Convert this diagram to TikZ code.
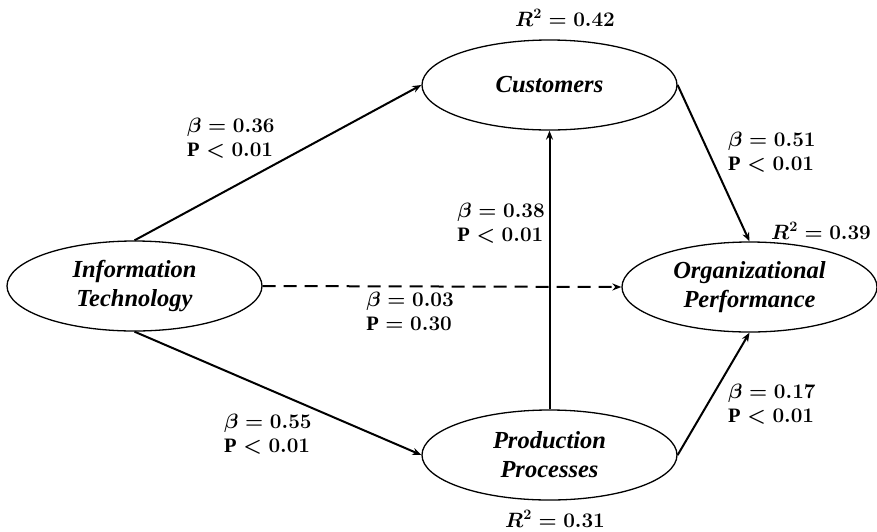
\documentclass[tikz,border=0pt]{standalone}
\usepackage{amsmath}
\usepackage{fontspec}
\setmainfont{Liberation Serif}
\usetikzlibrary{arrows.meta, shapes.geometric}

\begin{document}
\begin{tikzpicture}[x=1pt, y=-1pt]
\tikzstyle{every node}+=[inner sep=0pt]
\tikzstyle{construct}=[draw, ellipse, line width=1.3pt, minimum width=255pt, minimum height=90pt,
  align=center, font=\fontsize{24.5}{29}\selectfont\bfseries\itshape]
\tikzstyle{path}=[line width=2pt, -{Stealth[length=9pt, width=7pt]}]
\tikzstyle{coef}=[align=left, font=\fontsize{20.5}{24}\selectfont\boldmath]
\useasboundingbox (0,0) rectangle (877,531);
\node [construct] (it) at (134.5,286) {Information\\Technology};
\node [construct] (cust) at (549.5,85) {Customers};
\node [construct] (perf) at (749.5,287) {Organizational\\Performance};
\node [construct] (proc) at (549.5,455) {Production\\Processes};
\draw [path] (it.north) -- (cust.west);
\draw [path] (it.south) -- (proc.west);
\draw [path] (proc.north) -- (cust.south);
\draw [path] (cust.east) -- (perf.north);
\draw [path] (proc.east) -- (perf.south);
\draw [path, dash pattern=on 13pt off 8pt] (it.east) -- (perf.west);
\node [coef, anchor=west] (b1) at (187,138) {$\beta = 0.36$\\$\mathrm{P} < 0.01$};
\node [coef, anchor=west] (b2) at (224,434) {$\beta = 0.55$\\$\mathrm{P} < 0.01$};
\node [coef, anchor=east] (b3) at (545,223) {$\beta = 0.38$\\$\mathrm{P} < 0.01$};
\node [coef, anchor=center] (b4) at (410,311) {$\beta = 0.03$\\$\mathrm{P} = 0.30$};
\node [coef, anchor=west] (b5) at (728,152) {$\beta = 0.51$\\$\mathrm{P} < 0.01$};
\node [coef, anchor=west] (b6) at (728,404) {$\beta = 0.17$\\$\mathrm{P} < 0.01$};
\node [coef] (r1) at (565,18) {$R^2 = 0.42$};
\node [coef] (r2) at (821,231) {$R^2 = 0.39$};
\node [coef] (r3) at (555,519) {$R^2 = 0.31$};
\end{tikzpicture}
\end{document}
